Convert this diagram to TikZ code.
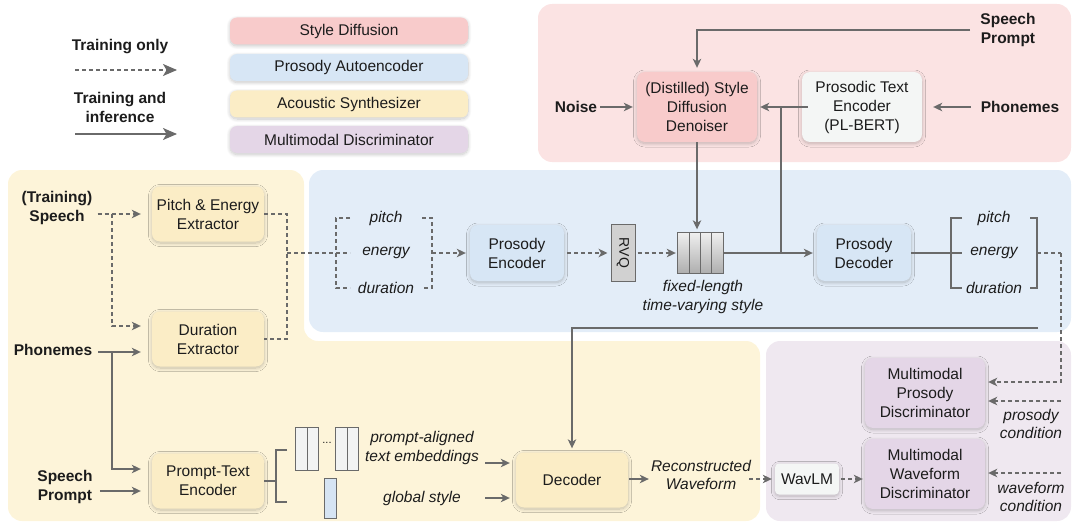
\documentclass[tikz,border=0pt]{standalone}
\usepackage{fontspec}
\setmainfont{Liberation Sans}
\usetikzlibrary{arrows.meta,calc,shadows.blur}

\definecolor{linec}{HTML}{6A6A6A}
\definecolor{txt}{HTML}{1C1C1C}
\definecolor{pinkbg}{HTML}{FBE3E3}
\definecolor{pinkbox}{HTML}{F8CBCB}
\definecolor{bluebg}{HTML}{E3EDF8}
\definecolor{bluebox}{HTML}{D7E6F5}
\definecolor{yellowbg}{HTML}{FDF4D9}
\definecolor{yellowbox}{HTML}{FBEDC6}
\definecolor{purplebg}{HTML}{EFE8F0}
\definecolor{purplebox}{HTML}{E4D6E7}
\definecolor{lightbox}{HTML}{F4F6F5}
\definecolor{embfill}{HTML}{F2F3F3}
\definecolor{globfill}{HTML}{D6E4F3}

\begin{document}
\begin{tikzpicture}[x=1pt,y=-1pt,
  every node/.style={text=txt, font=\fontsize{15.5}{19}\selectfont, inner sep=1pt},
  lbl/.style={font=\fontsize{15.5}{19}\selectfont\bfseries, align=center},
  itl/.style={font=\fontsize{15.5}{18.5}\selectfont\itshape, align=center},
  box/.style={rounded corners=8pt, align=center, inner sep=2pt,
    minimum width=112pt, minimum height=55pt,
    blur shadow={shadow xshift=0pt, shadow yshift=-1.5pt, shadow blur radius=3.5pt,
      shadow blur steps=12, shadow opacity=22}},
  legbox/.style={box, minimum width=238pt, minimum height=27pt, rounded corners=7pt},
  wire/.style={draw=linec, line width=1.15pt},
  solidarrow/.style={wire, -{Stealth[length=9pt,width=8.5pt,inset=2.5pt]}},
  dashwire/.style={wire, dash pattern=on 4pt off 3pt},
  dasharrow/.style={dashwire, -{Stealth[length=9pt,width=8.5pt,inset=2.5pt]}},
  bigtip/.style={-{Stealth[length=14pt,width=12pt,inset=3.5pt]}, line width=1.4pt},
  embd/.style={draw=linec, line width=1pt}
]
\useasboundingbox (0,0) rectangle (1073,524);

% coloured areas of the four parts
\fill[pinkbg, rounded corners=14pt] (538,4) rectangle (1071,162);
\fill[bluebg, rounded corners=14pt] (309,170) rectangle (1071,332);
\fill[yellowbg, rounded corners=14pt] (8,170) -- (304,170) -- (304,341) -- (760,341) -- (760,521) -- (8,521) -- cycle;
\fill[purplebg, rounded corners=14pt] (766,341) rectangle (1071,521);

% legend
\node[lbl] (lgOnly) at (120,47) {Training only};
\coordinate (lgA1) at (75,70);
\coordinate (lgA2) at (177,70);
\draw[dashwire, bigtip] (lgA1) -- (lgA2);
\node[lbl] (lgBoth) at (120,107) {Training and\\inference};
\coordinate (lgB1) at (75,134);
\coordinate (lgB2) at (177,134);
\draw[wire, bigtip] (lgB1) -- (lgB2);

\node[legbox, fill=pinkbox] (lgSD) at (349,31) {Style Diffusion};
\node[legbox, fill=bluebox] (lgPA) at (349,67.5) {Prosody Autoencoder};
\node[legbox, fill=yellowbox] (lgAS) at (349,104) {Acoustic Synthesizer};
\node[legbox, fill=purplebox] (lgMD) at (349,139.5) {Multimodal Discriminator};

% style diffusion
\node[lbl] (spA) at (1008,30) {Speech\\Prompt};
\node[box, fill=pinkbox, minimum width=120pt, minimum height=70pt] (denoiser) at (697,107) {(Distilled) Style\\Diffusion\\Denoiser};
\node[lbl] (noise) at (576,107) {Noise};
\node[box, fill=lightbox, minimum width=120pt, minimum height=70pt] (plbert) at (862,107) {Prosodic Text\\Encoder\\(PL-BERT)};
\node[lbl] (phonA) at (1020,107) {Phonemes};

\draw[solidarrow, shorten >=4pt] ($(spA.west)+(-9,0)$) -| (denoiser.north);
\draw[solidarrow, shorten <=2pt, shorten >=4pt] (noise) -- (denoiser);
\draw[solidarrow, shorten <=-6pt, shorten >=3pt] (plbert) -- (denoiser);
\draw[solidarrow, shorten <=9pt, shorten >=11pt] (phonA) -- (plbert);

% prosody autoencoder
\node[itl] (pitchA) at (386,218) {pitch};
\node[itl] (energyA) at (386,253) {energy};
\node[itl] (durA) at (386,288) {duration};
\node[box, fill=bluebox, minimum width=94pt, minimum height=56pt] (penc) at (517,253) {Prosody\\Encoder};
\node[draw=linec, line width=1pt, fill=black!18, rotate=-90, minimum width=57pt, minimum height=24pt, inner sep=0pt,
  font=\fontsize{14}{14}\selectfont] (rvq) at (623,253) {RVQ};
\node[minimum width=45pt, minimum height=41pt, inner sep=0pt] (stack) at (700.5,253) {};
\node[itl] (cap) at (703,297) {fixed-length\\time-varying style};
\node[box, fill=bluebox, minimum width=94pt, minimum height=56pt] (pdec) at (864,253) {Prosody\\Decoder};
\node[itl] (pitchB) at (994,218) {pitch};
\node[itl] (energyB) at (994,253) {energy};
\node[itl] (durB) at (994,288) {duration};

% style sequence: four shaded cells
\shade[top color=black!6, bottom color=black!32] (stack.north west) rectangle (stack.south east);
\draw[embd] (stack.north west) rectangle (stack.south east);
\foreach \k in {1,2,3}
  \draw[embd] ($(stack.north west)!\k/4!(stack.north east)$) -- ($(stack.south west)!\k/4!(stack.south east)$);

% extracted prosody bracket
\coordinate (xa) at (287,253);
\coordinate (bAout) at (432,253);
\draw[dashwire] (350,218) -- (336,218) -- (336,288) -- (350,288);
\draw[dashwire] (422,218) -- (432,218) -- (432,288) -- (422,288);
\draw[dashwire] (xa) -- (350,253);
\draw[dasharrow, shorten >=4pt] (bAout) -- (penc.west);
\draw[dasharrow, shorten <=3pt, shorten >=3pt] (penc) -- (rvq);
\draw[dasharrow, shorten <=2pt, shorten >=2pt] (rvq) -- (stack);
\draw[solidarrow, shorten >=4pt] (stack) -- (pdec);
\coordinate (jn) at (781,107);
\draw[wire] (jn) -- (jn |- stack.east);
\draw[solidarrow, shorten >=3pt] (denoiser.south) -- (denoiser.south |- stack.north);

% predicted prosody bracket
\coordinate (bBout) at (1037,253);
\coordinate (rt) at (1061,253);
\draw[wire] (962,218) -- (951,218) -- (951,288) -- (962,288);
\draw[wire] (1030,218) -- (1037,218) -- (1037,288) -- (1030,288);
\draw[wire] (pdec.east) -- (962,253);

% acoustic synthesizer
\node[lbl] (trSpeech) at (57,208) {(Training)\\Speech};
\node[box, fill=yellowbox] (pee) at (208,214) {Pitch \& Energy\\Extractor};
\node[box, fill=yellowbox] (dur) at (208,339) {Duration\\Extractor};
\node[lbl] (phonB) at (53,350) {Phonemes};
\node[box, fill=yellowbox] (pte) at (208,481) {Prompt-Text\\Encoder};
\node[lbl] (spB) at (65,487) {Speech\\Prompt};
\node[box, fill=yellowbox, minimum width=112pt] (dec) at (572,480) {Decoder};
\node[itl] (pa) at (422,448) {prompt-aligned\\text embeddings};
\node[itl] (gs) at (422,498) {global style};
\node[itl] (recon) at (701,475) {Reconstructed\\Waveform};

\coordinate (dY) at (0,352);
\coordinate (pY) at (0,491);
\coordinate (paY) at (0,463);
\coordinate (recY) at (0,479);
\coordinate (brS) at (112,214);
\coordinate (brP) at (112,352);

\draw[dasharrow, shorten >=11pt] ($(trSpeech.east |- pee.west)+(4,0)$) -- (pee.west);
\draw[dasharrow, shorten >=11pt] (brS) |- ($(dur.west)+(0,-13)$);
\draw[dashwire] (pee.east) -| (xa) |- (dur.east);
\draw[solidarrow, shorten >=11pt] ($(phonB.east |- dY)+(5,0)$) -- (dur.west |- dY);
\draw[solidarrow, shorten >=11pt] (brP) |- ($(pte.west)+(0,-12)$);
\draw[solidarrow, shorten >=11pt] ($(spB.east |- pY)+(6,0)$) -- (pte.west |- pY);

% text embeddings and global style vector
\draw[wire] (pte.east) -- (276,481);
\draw[wire] (287,450) -- (276,450) -- (276,502) -- (287,502);
\draw[embd, fill=embfill] (295,427) rectangle (318,470);
\draw[embd] (307,427) -- (307,470);
\draw[embd, fill=embfill] (335,427) rectangle (358,470);
\draw[embd] (347,427) -- (347,470);
\node[font=\fontsize{11}{11}\selectfont] (dots) at (327,443) {...};
\draw[embd, fill=globfill] (324,478) rectangle (336,518);

\draw[solidarrow, shorten >=6pt] ($(pa.east |- paY)+(5,0)$) -- (dec.west |- paY);
\draw[solidarrow, shorten >=6pt] ($(pa.east |- gs)+(5,0)$) -- (dec.west |- gs);
\coordinate (fb) at (1038,328);
\draw[solidarrow, shorten >=4pt] (fb) -| (dec.north);
\draw[solidarrow, shorten <=1pt, shorten >=1pt] (dec.east |- recY) -- (recon.west |- recY);

% multimodal discriminators
\node[box, fill=lightbox, minimum width=64pt, minimum height=31pt, rounded corners=4pt] (wavlm) at (807,479) {WavLM};
\node[box, fill=purplebox, minimum width=120pt, minimum height=70pt] (mpd) at (925,393) {Multimodal\\Prosody\\Discriminator};
\node[box, fill=purplebox, minimum width=120pt, minimum height=70pt] (mwd) at (925,474) {Multimodal\\Waveform\\Discriminator};
\node[itl] (pc) at (1031,424) {prosody\\condition};
\node[itl] (wc) at (1031,497) {waveform\\condition};

\draw[dasharrow, shorten <=-3pt, shorten >=3pt] (recon.east |- wavlm.west) -- (wavlm.west);
\draw[dasharrow, shorten <=2pt, shorten >=2pt] (wavlm.east) -- (mwd.west |- wavlm.east);
\draw[dashwire] (bBout) -- (rt);
\draw[dasharrow, shorten >=3pt] (rt) |- ($(mpd.east)+(0,-11)$);
\coordinate (pcS) at (1061,401);
\coordinate (wcS) at (1061,473);
\draw[dasharrow, shorten >=3pt] (pcS) -- (mpd.east |- pcS);
\draw[dasharrow, shorten >=3pt] (wcS) -- (mwd.east |- wcS);
\end{tikzpicture}
\end{document}
